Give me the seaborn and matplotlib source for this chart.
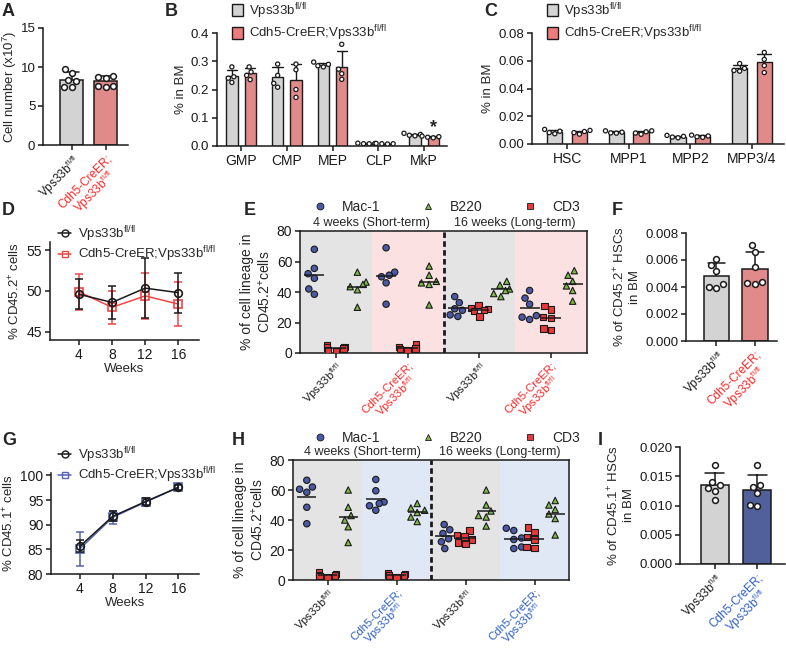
import matplotlib
matplotlib.use("Agg")
import matplotlib.pyplot as plt
import matplotlib.colors as mcolors
import seaborn as sns
import pandas as pd
import numpy as np
import warnings
from matplotlib.lines import Line2D
from matplotlib.patches import Patch
from matplotlib.markers import MarkerStyle

warnings.filterwarnings("ignore")

W, H = 786, 657
GRAY = "#d3d3d3"
RED = "#ef7c7c"
BLUE = "#4557a6"
RED_TXT = "#ff2424"
BLUE_TXT = "#2e5fc6"
RED_LINE = "#f04545"
BLUE_LINE = "#5463b4"
MAC_C = "#4a5aa8"
B220_C = "#7cbb45"
CD3_C = "#e8383a"

WT = r"Vps33b$^{\mathregular{fl/fl}}$"
KO = r"Cdh5-CreER;Vps33b$^{\mathregular{fl/fl}}$"
KO2 = "Cdh5-CreER;\n" + WT

# ---- data ----
a_wt = [9.7, 9.2, 8.3, 8.2, 7.5, 7.4]
a_ko = [8.7, 8.6, 8.9, 7.5, 7.6, 7.6]

b_pops = ["GMP", "CMP", "MEP", "CLP", "MkP"]
b_wt = [[0.280, 0.245, 0.240, 0.225], [0.290, 0.250, 0.222, 0.208],
        [0.297, 0.289, 0.284, 0.280], [0.010, 0.009, 0.008, 0.008],
        [0.045, 0.041, 0.038, 0.036]]
b_ko = [[0.280, 0.262, 0.250, 0.235], [0.290, 0.270, 0.200, 0.172],
        [0.360, 0.272, 0.256, 0.236], [0.009, 0.008, 0.008, 0.007],
        [0.035, 0.033, 0.031, 0.029]]

c_pops = ["HSC", "MPP1", "MPP2", "MPP3/4"]
c_wt = [[0.0105, 0.0092, 0.0082, 0.0074], [0.0095, 0.0085, 0.0080, 0.0078],
        [0.0062, 0.0055, 0.0050, 0.0045], [0.0580, 0.0545, 0.0530, 0.0525]]
c_ko = [[0.0098, 0.0090, 0.0082, 0.0071], [0.0095, 0.0088, 0.0079, 0.0070],
        [0.0064, 0.0058, 0.0052, 0.0048], [0.0660, 0.0610, 0.0565, 0.0515]]

weeks = [4, 8, 12, 16]
d_wt_mean = [49.6, 48.6, 50.35, 49.8]
d_wt_sd = [1.85, 2.0, 3.7, 2.45]
d_ko_mean = [49.9, 48.0, 49.4, 48.4]
d_ko_sd = [2.2, 2.0, 2.8, 2.7]

g_wt_mean = [85.6, 91.7, 94.7, 97.6]
g_wt_sd = [1.2, 1.0, 0.7, 0.5]
g_ko_mean = [85.1, 91.5, 94.6, 97.6]
g_ko_sd = [3.4, 1.3, 0.8, 0.6]

# groups: 4wk WT, 4wk KO, 16wk WT, 16wk KO
e_mac = [[68, 55.5, 52, 49, 42, 38.5], [69, 53, 51, 50, 46, 32],
         [37, 33, 29, 28, 25, 24], [41, 36, 32, 24.5, 23.5, 22]]
e_b220 = [[53, 46.5, 45, 43.5, 41.5, 30], [57, 51, 47, 46, 45, 31.5],
          [47, 44.5, 42, 41, 39, 37], [54, 51, 47, 44, 41, 34]]
e_cd3 = [[5, 4, 3.5, 2, 1.5, 3], [5.5, 4, 3, 2.5, 2, 3],
         [31.5, 29.5, 29, 28, 27.5, 24], [31, 28.5, 23.5, 23, 16, 15]]

f_wt = [0.0061, 0.0056, 0.0052, 0.0042, 0.0040, 0.0039]
f_ko = [0.0071, 0.0066, 0.0055, 0.0044, 0.0043, 0.0042]

h_mac = [[66.5, 62, 60.5, 58.5, 48.5, 37.5], [67, 59.5, 52, 51, 49.5, 46.5],
         [37, 33.5, 31, 27.5, 25.5, 21], [34.5, 33, 28, 27, 22, 21]]
h_b220 = [[60, 48.5, 43, 40, 35.5, 25], [51, 48, 46.5, 45, 42, 39],
          [60, 50, 46, 43, 42, 36], [53, 50, 47, 44, 41, 30]]
h_cd3 = [[5.5, 4, 3.5, 2.5, 2, 3], [4.5, 4, 3.5, 3, 2, 3],
         [33, 30, 29, 27, 25, 24], [35, 32, 28.5, 27, 22, 21.5]]

i_wt = [0.0170, 0.0140, 0.0135, 0.0130, 0.0125, 0.0110]
i_ko = [0.0170, 0.0135, 0.0132, 0.0122, 0.0101, 0.0100]

# ---- style ----
sns.set_theme(style="ticks")
plt.rcParams["font.family"] = ["Liberation Sans", "DejaVu Sans"]
plt.rcParams.update({
    "axes.linewidth": 1.1, "xtick.major.width": 1.1, "ytick.major.width": 1.1,
    "xtick.major.size": 3.5, "ytick.major.size": 3.5,
    "xtick.labelsize": 9.5, "ytick.labelsize": 9.5, "axes.labelsize": 9.5,
    "xtick.color": "k", "ytick.color": "k", "axes.edgecolor": "k",
    "xtick.major.pad": 2, "ytick.major.pad": 2, "axes.labelpad": 3,
})

fig = plt.figure(figsize=(7.86, 6.57), dpi=100)


def add_ax(x0, y0, x1, y1):
    return fig.add_axes([x0 / W, 1 - y1 / H, (x1 - x0) / W, (y1 - y0) / H])


def letter(x, y, s):
    fig.text(x / W, 1 - y / H, s, ha="left", va="top", fontsize=13, fontweight="bold")


def rot_labels(ax, pos, labels, colors, size=8.5):
    ax.set_xticks(pos)
    ax.set_xticklabels(labels, rotation=45, ha="right", rotation_mode="anchor",
                       fontsize=size, multialignment="center", linespacing=0.95)
    for t, c in zip(ax.get_xticklabels(), colors):
        t.set_color(c)


def two_bar(ax, wt, ko, ko_color, txt_color, ylim, yticks, ylabel, xlim, pad=3):
    df = pd.DataFrame({"geno": ["WT"] * len(wt) + ["KO"] * len(ko), "value": wt + ko})
    sns.barplot(data=df, x="geno", y="value", hue="geno", order=["WT", "KO"],
                palette={"WT": GRAY, "KO": ko_color}, errorbar="sd", capsize=0.45,
                width=0.66, edgecolor="k", linewidth=1.1,
                err_kws={"color": "k", "linewidth": 1.1, "zorder": 0.9},
                legend=False, ax=ax)
    sns.swarmplot(data=df, x="geno", y="value", order=["WT", "KO"], color="white",
                  edgecolor="k", linewidth=1.1, size=4.2, ax=ax)
    ax.set_ylim(*ylim)
    ax.set_yticks(yticks)
    ax.set_xlim(*xlim)
    ax.set_xlabel("")
    ax.set_ylabel(ylabel, labelpad=pad)
    rot_labels(ax, [0, 1], [WT, KO2], ["k", txt_color])
    sns.despine(ax=ax)


def group_bar(ax, pops, wt, ko, ylim, yticks, xlim):
    rows = []
    for p, vw, vk in zip(pops, wt, ko):
        rows += [(p, "WT", v) for v in vw] + [(p, "KO", v) for v in vk]
    df = pd.DataFrame(rows, columns=["pop", "geno", "value"])
    sns.barplot(data=df, x="pop", y="value", hue="geno", order=pops, hue_order=["WT", "KO"],
                palette={"WT": GRAY, "KO": RED}, errorbar="sd", capsize=0.45,
                width=0.8, gap=0.38, edgecolor="k", linewidth=1,
                err_kws={"color": "k", "linewidth": 1, "zorder": 0.9},
                legend=False, ax=ax)
    sns.swarmplot(data=df, x="pop", y="value", hue="geno", order=pops,
                  hue_order=["WT", "KO"], dodge=True,
                  palette={"WT": "white", "KO": "white"}, edgecolor="k",
                  linewidth=0.9, size=3.0, legend=False, ax=ax)
    ax.set_ylim(*ylim)
    ax.set_yticks(yticks)
    ax.set_xlim(*xlim)
    ax.set_xlabel("")
    ax.set_ylabel("% in BM")
    ax.tick_params(axis="x", labelsize=10)
    sns.despine(ax=ax)
    ax.legend(handles=[Patch(facecolor=GRAY, edgecolor="k"), Patch(facecolor=RED, edgecolor="k")],
              labels=[WT, KO], loc="upper left", frameon=False, fontsize=9.5,
              handlelength=0.8, handleheight=1.0, handletextpad=0.5, labelspacing=0.25,
              borderaxespad=0, borderpad=0,
              bbox_to_anchor=(ax.get_position().x0 + 15 / W, 1 - 1 / H),
              bbox_transform=fig.transFigure)
    return df


def time_panel(ax, wt_m, wt_s, ko_m, ko_s, ko_col, ylim, yticks, ylabel, leg_y):
    for m, s, col, mk in [(ko_m, ko_s, ko_col, "s"), (wt_m, wt_s, "k", "o")]:
        ax.errorbar(weeks, m, yerr=s, fmt="none", ecolor=col, elinewidth=1.1,
                    capsize=3, capthick=1.1)
        sns.lineplot(x=weeks, y=m, color=col, marker=mk, markersize=5.5,
                     markerfacecolor="none", markeredgecolor=col, markeredgewidth=1.2,
                     linewidth=1.1, ax=ax)
    ax.set_xlim(0.5, 18.5)
    ax.set_xticks(weeks)
    ax.set_ylim(*ylim)
    ax.set_yticks(yticks)
    ax.set_xlabel("Weeks", labelpad=1)
    ax.set_ylabel(ylabel)
    ax.tick_params(labelsize=10)
    sns.despine(ax=ax)
    hnd = [Line2D([0], [0], color="k", marker="o", mfc="none", ms=5, lw=1.1),
           Line2D([0], [0], color=ko_col, marker="s", mfc="none", ms=5, lw=1.1)]
    ax.legend(handles=hnd, labels=[WT, KO], loc="upper left", frameon=False, fontsize=9.5,
              handlelength=1.0, handletextpad=0.5, labelspacing=0.05, borderpad=0,
              borderaxespad=0, bbox_to_anchor=(58 / W, 1 - leg_y / H),
              bbox_transform=fig.transFigure)


OFF = {"Mac-1": 0.2, "CD3": 0.5, "B220": 0.8}
STY = {"Mac-1": ("o", MAC_C), "B220": ("^", B220_C), "CD3": ("s", CD3_C)}


def lineage_panel(ax, mac, b220, cd3, alt_shade, ko_txt, leg_y, sub_y):
    rows = []
    for name, arr in [("Mac-1", mac), ("B220", b220), ("CD3", cd3)]:
        for g, vals in enumerate(arr):
            rows += [(name, g, round(g + OFF[name], 3), v) for v in vals]
    df = pd.DataFrame(rows, columns=["lineage", "group", "pos", "value"])
    for g in range(4):
        ax.axvspan(g, g + 1, color=["#e4e4e4", alt_shade][g % 2], lw=0, zorder=0)
    n0 = len(ax.collections)
    sns.swarmplot(data=df, x="pos", y="value", hue="lineage", native_scale=True,
                  orient="x", palette={n: STY[n][1] for n in STY}, edgecolor="k",
                  linewidth=0.8, size=4.6, legend=False, ax=ax, zorder=3)
    # one swarm per column: give each its lineage marker
    for coll in ax.collections[n0:]:
        fc = coll.get_facecolor()
        if len(fc) == 0:
            continue
        for n, (mk, col) in STY.items():
            if np.allclose(fc[0][:3], mcolors.to_rgb(col), atol=0.03):
                m = MarkerStyle(mk)
                coll.set_paths([m.get_path().transformed(m.get_transform())])
    means = df.groupby(["lineage", "pos"])["value"].mean().reset_index()
    ax.hlines(means["value"], means["pos"] - 0.14, means["pos"] + 0.14,
              color="k", lw=1.1, zorder=4)
    ax.axvline(2, color="k", ls=(0, (2, 1.2)), lw=2, zorder=5)
    ax.set_xlim(0, 4)
    ax.set_ylim(0, 80)
    ax.set_yticks([0, 20, 40, 60, 80])
    ax.set_xlabel("")
    ax.set_ylabel("% of cell lineage in\nCD45.2$^{\\mathregular{+}}$cells", fontsize=10)
    ax.tick_params(axis="y", labelsize=10)
    rot_labels(ax, [g + OFF["CD3"] for g in range(4)], [WT, KO2, WT, KO2],
               ["k", ko_txt, "k", ko_txt], size=8.2)
    for s in ax.spines.values():
        s.set_visible(True)
    ax.text(1, 80 + sub_y, "4 weeks (Short-term)", ha="center", va="bottom", fontsize=9)
    ax.text(3, 80 + sub_y, "16 weeks (Long-term)", ha="center", va="bottom", fontsize=9)
    hnd = [Line2D([0], [0], ls="none", marker=STY[n][0], mfc=STY[n][1], mec="k",
                  mew=0.6, ms=5) for n in ["Mac-1", "B220", "CD3"]]
    ax.legend(handles=hnd, labels=["Mac-1", "B220", "CD3"], ncol=3, frameon=False,
              fontsize=10, loc="center", handletextpad=0.6, columnspacing=2.4,
              borderpad=0, bbox_to_anchor=(443 / W, 1 - leg_y / H),
              bbox_transform=fig.transFigure)


# ---- A ----
axA = add_ax(43, 28, 128, 145)
two_bar(axA, a_wt, a_ko, RED, RED_TXT, (0, 15), [0, 5, 10, 15],
        "Cell number (x10$^{\\mathregular{7}}$)", (-0.84, 1.66), pad=1)
letter(2, 3, "A")

# ---- B ----
axB = add_ax(217, 33, 447, 146)
group_bar(axB, b_pops, b_wt, b_ko, (0, 0.4), [0, 0.1, 0.2, 0.3, 0.4], (-0.525, 4.5))
axB.set_yticklabels(["0.0", "0.1", "0.2", "0.3", "0.4"])
mkp_top = pd.Series(b_ko[4]).mean() + pd.Series(b_ko[4]).std()
axB.text(4.2, mkp_top + 0.002, "*", ha="center", va="bottom", fontsize=13, fontweight="bold")
letter(165, 3, "B")

# ---- C ----
axC = add_ax(532, 33, 784, 144)
group_bar(axC, c_pops, c_wt, c_ko, (0, 0.08), [0, 0.02, 0.04, 0.06, 0.08], (-0.57, 3.52))
axC.set_yticklabels(["0.00", "0.02", "0.04", "0.06", "0.08"])
letter(484, 3, "C")

# ---- D ----
axD = add_ax(50, 242, 199, 340)
time_panel(axD, d_wt_mean, d_wt_sd, d_ko_mean, d_ko_sd, RED_LINE, (44, 56), [45, 50, 55],
           "% CD45.2$^{\\mathregular{+}}$ cells", 224)
letter(2, 202, "D")

# ---- E ----
axE = add_ax(300, 231, 587, 353)
lineage_panel(axE, e_mac, e_b220, e_cd3, "#fbe1e1", RED_TXT, 207, 1.5)
letter(244, 202, "E")

# ---- F ----
axF = add_ax(686, 233, 777, 341)
two_bar(axF, f_wt, f_ko, RED, RED_TXT, (0, 0.008), [0, 0.002, 0.004, 0.006, 0.008],
        "% of CD45.2$^{\\mathregular{+}}$ HSCs\nin BM", (-0.79, 1.57))
axF.set_yticklabels(["0.000", "0.002", "0.004", "0.006", "0.008"])
letter(612, 202, "F")

# ---- G ----
axG = add_ax(51, 473, 199, 574)
time_panel(axG, g_wt_mean, g_wt_sd, g_ko_mean, g_ko_sd, BLUE_LINE, (80, 100.5),
           [80, 85, 90, 95, 100], "% CD45.1$^{\\mathregular{+}}$ cells", 445)
letter(2, 432, "G")

# ---- H ----
axH = add_ax(293, 460, 569, 580)
lineage_panel(axH, h_mac, h_b220, h_cd3, "#e1e8f5", BLUE_TXT, 438, 1.5)
letter(232, 432, "H")

# ---- I ----
axI = add_ax(680, 447, 785, 564)
two_bar(axI, i_wt, i_ko, BLUE, BLUE_TXT, (0, 0.02), [0, 0.005, 0.01, 0.015, 0.02],
        "% of CD45.1$^{\\mathregular{+}}$ HSCs\nin BM", (-0.82, 1.65))
axI.set_yticklabels(["0.000", "0.005", "0.010", "0.015", "0.020"])
letter(598, 432, "I")

fig.savefig("out.png", dpi=100)
